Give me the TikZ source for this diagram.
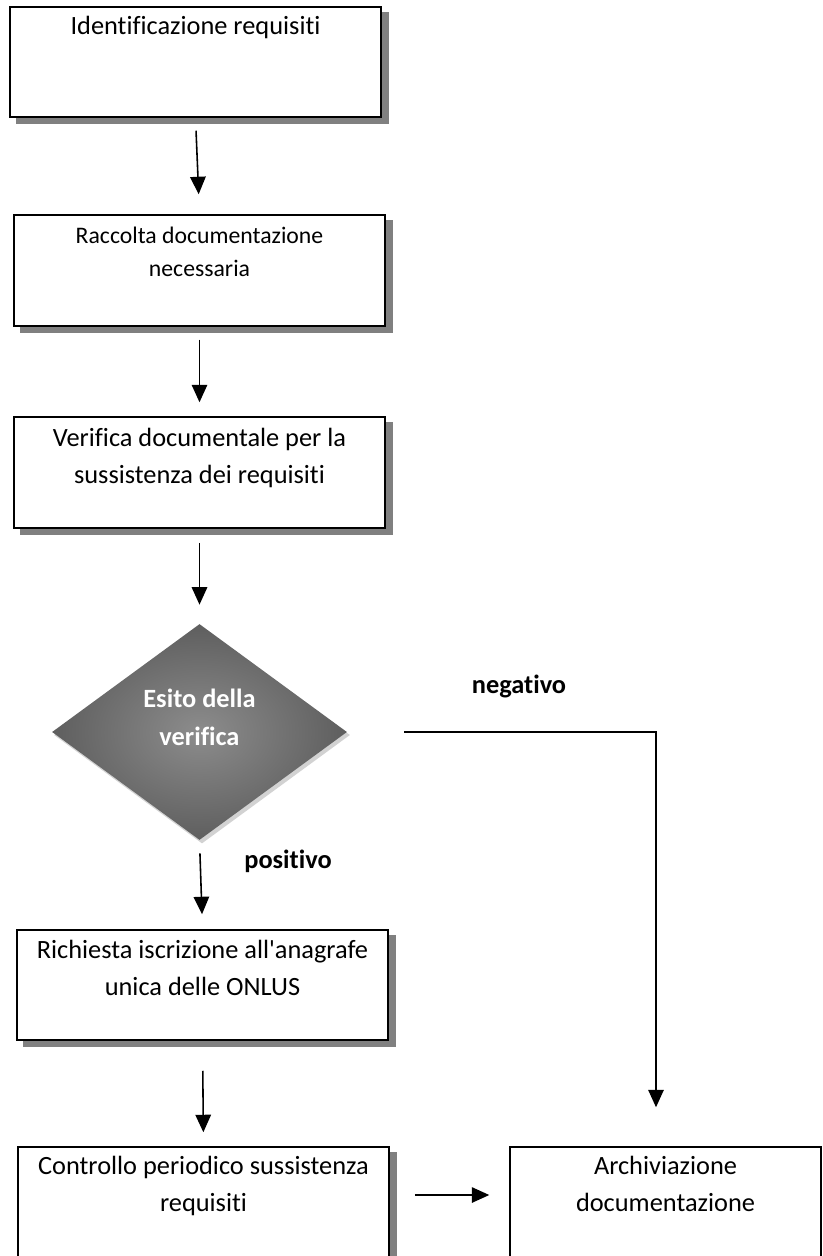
\documentclass[tikz,border=0pt]{standalone}
\usepackage{fontspec}
\setmainfont{Carlito}[RawFeature={-liga;-clig;-calt;-dlig;-rlig}]
\usepackage{tikz}
\usetikzlibrary{calc,positioning,backgrounds,shapes.geometric,arrows.meta}
\newcommand{\shadowcolor}{gray}
\newcommand{\shadowx}{0.14}
\newcommand{\shadowy}{-0.12}
\newcommand{\boxwidth}{7.42cm}
\newcommand{\boxheight}{2.2cm}
\tikzset{
  box/.style={draw, fill=white, line width=0.85pt, minimum width=\boxwidth, minimum height=\boxheight, inner sep=0pt},
  txt/.style={align=center, inner sep=0pt, font=\fontsize{15}{21}\selectfont},
  lbl/.style={inner sep=0pt, anchor=base, font=\fontsize{15}{21}\selectfont\bfseries},
  arr/.style={line width=0.9pt, -{Triangle[length=0.35cm,width=0.31cm]}}
}

\begin{document}
\begin{tikzpicture}
\useasboundingbox (0,0) rectangle (16.44,-25.12);
\node[box] (1) at (3.91, -1.24) {};
\node[box] (2) at (3.99, -5.41) [minimum height=2.22cm] {};
\node[box] (3) at (3.99, -9.45) [minimum height=2.22cm] {};
\node[diamond, inner sep=0pt, minimum width=5.9cm, minimum height=4.32cm, shading=radial, inner color=black!45, outer color=black!63] (4) at (3.99, -14.64) {};
\node[box] (5) at (4.05, -19.7) {};
\node[box] (6) at (4.07, -24.04) {};
\node[box] (7) at (13.31, -24.04) [minimum width=6.22cm] {};
\coordinate (8) at ($(4.east)+(1.14,0)$);
\coordinate (9) at ($(7.north)+(-0.19,0.78)$);
%texts
\node[txt, below=0.2cm of 1.north] (1t) {Identificazione requisiti};
\node[txt, font=\fontsize{13.5}{19.3}\selectfont, below=0.24cm of 2.north] (2t) {Raccolta documentazione\\necessaria};
\node[txt, below=0.24cm of 3.north] (3t) {Verifica documentale per la\\sussistenza dei requisiti};
\node[txt, text=white, font=\fontsize{15}{21.5}\selectfont\bfseries, below=1.3cm of 4.north] (4t) {Esito della\\verifica};
\node[txt, below=0.22cm of 5.north] (5t) {Richiesta iscrizione all\textquotesingle anagrafe\\unica delle ONLUS};
\node[txt, below=0.2cm of 6.north] (6t) {Controllo periodico sussistenza\\requisiti};
\node[txt, below=0.2cm of 7.north] (7t) {Archiviazione\\documentazione};
\node[lbl] (neg) at (10.38, -13.86) {negativo};
\node[lbl] (pos) at (5.76, -17.36) {positivo};
%arrows
\draw[arr, shorten <=0.26cm, shorten >=0.4cm] (1.south) -- (2.north);
\draw[arr, shorten <=0.26cm, shorten >=0.28cm] (2.south) -- (3.north);
\draw[arr, shorten <=0.28cm, shorten >=0.38cm] (3.south) -- (4.north);
\draw[arr, shorten <=0.26cm, shorten >=0.3cm] (4.south) -- (5.north);
\draw[arr, shorten <=0.6cm, shorten >=0.28cm] (5.south) -- (6.north);
\draw[arr, shorten <=0.5cm, shorten >=0.4cm] ([yshift=0.14cm]6.east) -- ([yshift=0.14cm]7.west);
\draw[arr] (8) -| (9);
%shadows
\begin{scope}[on background layer]
\fill[\shadowcolor] ($(1.south west)+(\shadowx,\shadowy)$) rectangle ($(1.north east)+(\shadowx,\shadowy)$);
\fill[\shadowcolor] ($(2.south west)+(\shadowx,\shadowy)$) rectangle ($(2.north east)+(\shadowx,\shadowy)$);
\fill[\shadowcolor] ($(3.south west)+(\shadowx,\shadowy)$) rectangle ($(3.north east)+(\shadowx,\shadowy)$);
\fill[\shadowcolor] ($(5.south west)+(\shadowx,\shadowy)$) rectangle ($(5.north east)+(\shadowx,\shadowy)$);
\fill[\shadowcolor] ($(6.south west)+(\shadowx,\shadowy)$) rectangle ($(6.north east)+(\shadowx,\shadowy)$);
\fill[gray!35] ($(4.north)+(0.05,-0.06)$) -- ($(4.east)+(0.05,-0.06)$) -- ($(4.south)+(0.05,-0.06)$) -- ($(4.west)+(0.05,-0.06)$) -- cycle;
\end{scope}
\end{tikzpicture}
\end{document}
